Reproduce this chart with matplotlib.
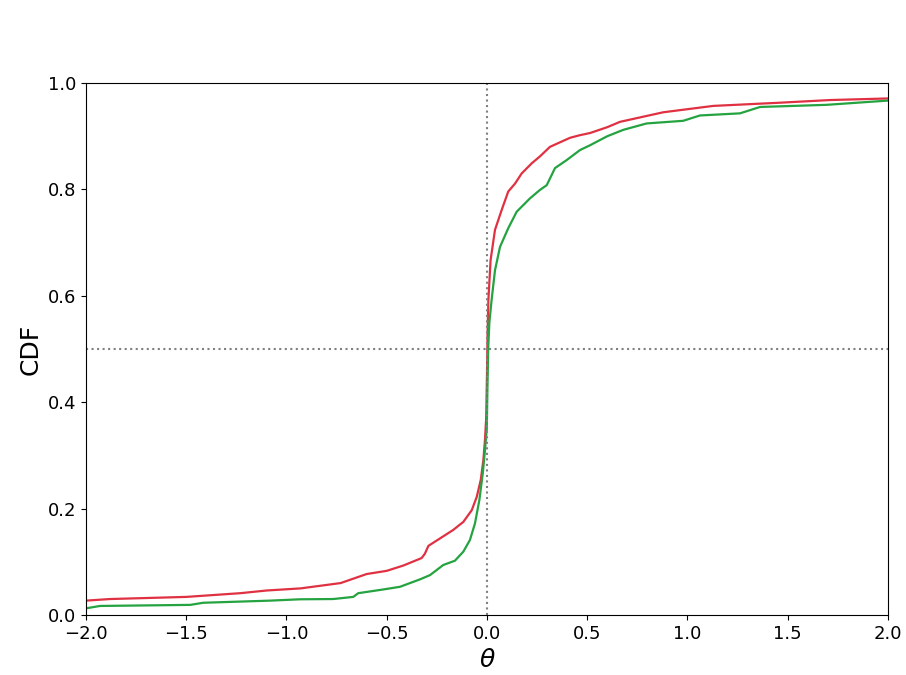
import matplotlib
matplotlib.use("Agg")
import matplotlib.pyplot as plt

# values (theta, CDF)
red_theta = [-2.0, -1.88, -1.5, -1.23, -1.1, -0.93, -0.73, -0.6, -0.5, -0.417,
             -0.326, -0.31, -0.292, -0.234, -0.168, -0.118, -0.076, -0.051,
             -0.031, -0.018, -0.010, -0.004, 0.0, 0.003, 0.007, 0.018, 0.040,
             0.073, 0.106, 0.140, 0.173, 0.223, 0.264, 0.314, 0.414, 0.464,
             0.514, 0.6, 0.663, 0.879, 1.129, 1.461, 1.711, 2.0]
red_cdf = [0.027, 0.030, 0.034, 0.041, 0.046, 0.050, 0.060, 0.077, 0.083, 0.093,
           0.107, 0.115, 0.130, 0.144, 0.160, 0.175, 0.197, 0.222,
           0.254, 0.291, 0.329, 0.37, 0.45, 0.53, 0.592, 0.667, 0.724,
           0.761, 0.796, 0.811, 0.830, 0.849, 0.862, 0.880, 0.897, 0.902,
           0.906, 0.917, 0.927, 0.945, 0.957, 0.963, 0.968, 0.971]

green_theta = [-2.0, -1.93, -1.48, -1.415, -1.082, -0.933, -0.767, -0.667, -0.642,
               -0.517, -0.434, -0.334, -0.284, -0.218, -0.160, -0.118, -0.085,
               -0.060, -0.038, -0.021, -0.010, -0.001, 0.002, 0.006, 0.012,
               0.023, 0.040, 0.065, 0.106, 0.148, 0.214, 0.264, 0.298, 0.32,
               0.339, 0.397, 0.464, 0.514, 0.6, 0.68, 0.796, 0.979, 1.062, 1.262,
               1.362, 1.694, 2.0]
green_cdf = [0.0125, 0.017, 0.019, 0.023, 0.027, 0.0295, 0.030, 0.034, 0.041,
             0.048, 0.053, 0.067, 0.075, 0.094, 0.102, 0.119, 0.141,
             0.172, 0.216, 0.266, 0.310, 0.35, 0.42, 0.50, 0.55,
             0.592, 0.648, 0.692, 0.727, 0.758, 0.783, 0.799, 0.808, 0.825,
             0.84, 0.855, 0.874, 0.883, 0.900, 0.912, 0.924, 0.929, 0.939, 0.943,
             0.955, 0.959, 0.967]

fig = plt.figure(figsize=(9.06, 6.75), dpi=100)
ax = fig.add_axes([0.0949, 0.0889, 0.8852, 0.7881])

ax.plot(red_theta, red_cdf, color="#e03142", lw=1.6)
ax.plot(green_theta, green_cdf, color="#24a340", lw=1.6)

ax.axvline(0, color="gray", ls=":", lw=1.5)
ax.axhline(0.5, color="gray", ls=":", lw=1.5)

ax.set_xlim(-2, 2)
ax.set_ylim(0, 1)
ax.set_xlabel(r"$\theta$", fontsize=18)
ax.set_ylabel("CDF", fontsize=18)
ax.tick_params(labelsize=13)

fig.savefig("out.png", dpi=100)
